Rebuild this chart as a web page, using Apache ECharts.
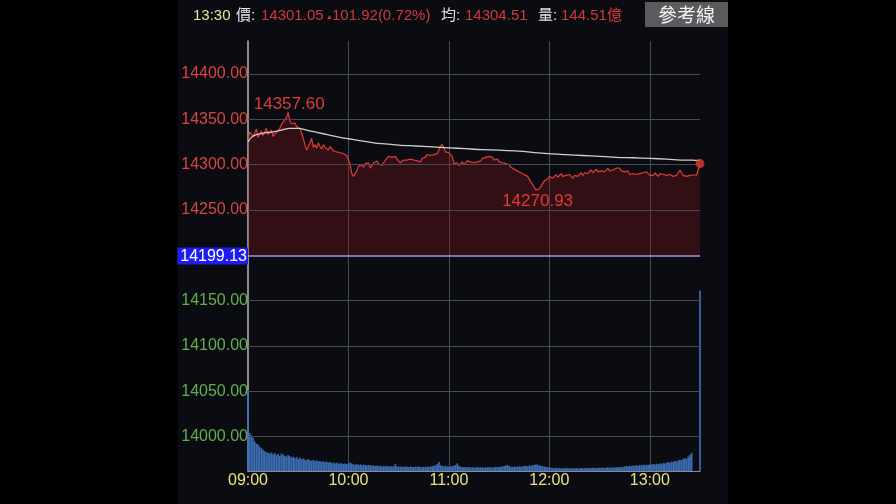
<!DOCTYPE html>
<html>
<head>
<meta charset="utf-8">
<script src="https://cdn.jsdelivr.net/npm/echarts@6/dist/echarts.min.js"></script>
<style>
html,body{margin:0;padding:0;background:#000;}
#c{width:896px;height:504px;}
</style>
</head>
<body>
<div id="c"></div>
<script>
// ---------- data ----------
var refPrice = 14199.13;
var lastTime = '13:30';
var header = { price: '14301.05', change: '101.92(0.72%)', avg: '14304.51', vol: '144.51億' };

// minute categories 09:00 .. 13:30
var times = [];
for (var h = 9; h <= 13; h++) {
  for (var mm = 0; mm < 60; mm++) {
    if (h === 13 && mm > 30) break;
    times.push((h < 10 ? '0' : '') + h + ':' + (mm < 10 ? '0' : '') + mm);
  }
}

// index price per minute
var prices = [
  14326, 14336, 14338, 14331, 14335, 14339, 14330, 14334, 14337, 14332,   // 09:00
  14336, 14340, 14333, 14335, 14338, 14331, 14334, 14336, 14337, 14340,   // 09:10
  14344, 14347, 14349, 14352, 14357.6, 14348, 14345, 14343, 14346, 14342, // 09:20
  14344, 14340, 14341, 14329, 14322, 14316, 14320, 14324, 14329, 14319,   // 09:30
  14322, 14318, 14324, 14320, 14317, 14322, 14319, 14321, 14316, 14320,   // 09:40
  14318, 14315, 14317, 14314, 14316, 14313, 14315, 14312, 14313, 14310,   // 09:50
  14309, 14300, 14290, 14287, 14288, 14293, 14298, 14296, 14300, 14297,   // 10:00
  14301, 14299, 14302, 14296, 14298, 14302, 14300, 14304, 14301, 14303,   // 10:10
  14299, 14302, 14305, 14306, 14309, 14311, 14308, 14310, 14309, 14306,   // 10:20
  14304, 14302, 14303, 14305, 14307, 14305, 14307, 14306, 14308, 14305,   // 10:30
  14307, 14304, 14306, 14303, 14307, 14309, 14308, 14311, 14309, 14310,   // 10:40
  14308, 14311, 14310, 14312, 14316, 14320, 14322.4, 14321, 14314, 14316, // 10:50
  14313, 14315, 14309, 14301, 14300, 14302, 14299, 14301, 14303, 14300,   // 11:00
  14302, 14304, 14305, 14303, 14301, 14302, 14300, 14303, 14305, 14304,   // 11:10
  14307, 14306, 14308, 14310, 14309, 14311, 14308, 14305, 14304, 14306,   // 11:20
  14303, 14304, 14302, 14303, 14301, 14299, 14300, 14297, 14298, 14295,   // 11:30
  14296, 14293, 14294, 14291, 14292, 14289, 14290, 14287, 14284, 14281,   // 11:40
  14278, 14275, 14272, 14270.93, 14273, 14276, 14279, 14282, 14281, 14284, // 11:50
  14287, 14288, 14285, 14287, 14289, 14286, 14288, 14290, 14287, 14285,   // 12:00
  14288, 14286, 14289, 14287, 14285, 14288, 14290, 14287, 14289, 14291,   // 12:10
  14288, 14291, 14293, 14290, 14292, 14294, 14291, 14293, 14295, 14292,   // 12:20
  14294, 14293, 14295, 14292, 14294, 14296, 14293, 14295, 14294, 14295,   // 12:30
  14296, 14294, 14296, 14293, 14295, 14292, 14290, 14293, 14289, 14291,   // 12:40
  14290, 14292, 14289, 14291, 14290, 14288, 14291, 14289, 14292, 14290,   // 12:50
  14288, 14290, 14288, 14291, 14289, 14287, 14290, 14288, 14289, 14291,   // 13:00
  14288, 14286, 14289, 14290, 14287, 14289, 14288, 14290, 14294, 14291,   // 13:10
  14288, 14289, 14287, 14289, 14288, 14288.5, 14288.5, 14288.5, 14288.5, 14288.5, // 13:20
  14301.05                                                                // 13:30
];

// running average (sampled minutes)
var avgMinutes = [0, 2, 5, 10, 15, 20, 25, 30, 35, 40, 45, 50, 55, 60, 65, 70, 75, 80, 90, 100, 110, 120, 130, 140, 150, 160, 170, 180, 190, 200, 210, 220, 230, 240, 250, 260, 265, 270];
var avgValues  = [14325, 14330, 14333, 14335, 14336, 14338, 14340, 14340, 14338, 14336, 14334, 14332, 14330, 14328.5, 14327, 14325.5, 14324, 14323, 14321.5, 14320.5, 14319.5, 14318.5, 14317.5, 14316.5, 14316, 14315, 14313.5, 14312, 14311, 14310, 14309, 14308, 14307.5, 14306.8, 14306, 14305, 14304.8, 14304.51];

// volume per minute (億)
var volumes = [
  5.35, 2.5, 2.35, 2.2, 1.95, 1.8, 1.75, 1.6, 1.5, 1.4,
  1.3, 1.25, 1.2, 1.15, 1.22, 1.1, 1.18, 1.05, 1.12, 1.0,
  1.15, 1.08, 1.0, 0.95, 1.05, 0.98, 0.9, 0.95, 0.85, 0.92,
  0.8, 0.88, 0.78, 0.82, 0.75, 0.72, 0.8, 0.7, 0.68, 0.74,
  0.65, 0.7, 0.62, 0.66, 0.6, 0.64, 0.58, 0.62, 0.55, 0.6,
  0.52, 0.56, 0.5, 0.55, 0.48, 0.52, 0.5, 0.46, 0.5, 0.45,
  0.48, 0.55, 0.5, 0.45, 0.42, 0.46, 0.4, 0.44, 0.38, 0.42,
  0.4, 0.36, 0.4, 0.38, 0.35, 0.38, 0.33, 0.36, 0.32, 0.35,
  0.3, 0.34, 0.31, 0.33, 0.3, 0.32, 0.29, 0.31, 0.45, 0.3,
  0.28, 0.3, 0.27, 0.29, 0.28, 0.3, 0.26, 0.29, 0.27, 0.25,
  0.28, 0.26, 0.3, 0.27, 0.25, 0.28, 0.26, 0.29, 0.27, 0.3,
  0.32, 0.35, 0.38, 0.45, 0.6, 0.4, 0.33, 0.3, 0.35, 0.3,
  0.28, 0.3, 0.32, 0.35, 0.4, 0.5, 0.33, 0.28, 0.26, 0.25,
  0.27, 0.24, 0.26, 0.23, 0.25, 0.22, 0.24, 0.26, 0.23, 0.25,
  0.24, 0.22, 0.25, 0.23, 0.26, 0.24, 0.22, 0.25, 0.27, 0.24,
  0.26, 0.28, 0.3, 0.33, 0.36, 0.4, 0.32, 0.28, 0.26, 0.3,
  0.27, 0.29, 0.31, 0.28, 0.3, 0.33, 0.35, 0.32, 0.36, 0.34,
  0.38, 0.4, 0.45, 0.42, 0.38, 0.35, 0.32, 0.3, 0.28, 0.26,
  0.24, 0.22, 0.2, 0.19, 0.21, 0.18, 0.2, 0.17, 0.19, 0.18,
  0.2, 0.17, 0.19, 0.16, 0.18, 0.17, 0.19, 0.16, 0.18, 0.2,
  0.17, 0.19, 0.21, 0.18, 0.2, 0.19, 0.22, 0.2, 0.21, 0.19,
  0.22, 0.21, 0.23, 0.2, 0.22, 0.24, 0.21, 0.23, 0.22, 0.25,
  0.23, 0.25, 0.27, 0.24, 0.26, 0.3, 0.33, 0.31, 0.35, 0.32,
  0.36, 0.34, 0.38, 0.35, 0.4, 0.37, 0.41, 0.38, 0.42, 0.4,
  0.44, 0.42, 0.46, 0.43, 0.48, 0.45, 0.5, 0.47, 0.52, 0.5,
  0.55, 0.58, 0.55, 0.62, 0.6, 0.66, 0.63, 0.7, 0.75, 0.72,
  0.8, 0.85, 0.82, 0.95, 1.05, 1.2, 0, 0, 0, 0,
  11.9
];

// axis ticks
var priceTicks = [14000, 14050, 14100, 14150, 14199.13, 14250, 14300, 14350, 14400];
var priceMin = 13961.93, priceMax = 14436.33;
var volMax = 28.4;

// ---------- styles ----------
var RED = '#e03b38', GREEN = '#62b04c', GRID = '#474b53';

var avgData = avgMinutes.map(function (m, i) { return [times[m], avgValues[i]]; });
var gridLines = priceTicks.map(function (v) {
  if (v === refPrice) return { yAxis: v, lineStyle: { color: '#9a9ad8', width: 1.5, type: 'solid' } };
  return { yAxis: v };
});

var chart = echarts.init(document.getElementById('c'));
var FONT = '"Helvetica Neue", Arial, "Liberation Sans", "Noto Sans CJK TC", sans-serif';

chart.setOption({
  backgroundColor: '#000',
  animation: false,
  textStyle: { fontFamily: FONT },
  graphic: [
    { type: 'rect', z: -10, shape: { x: 178, y: 0, width: 550, height: 504 }, style: { fill: '#0b0c12' } },
    { type: 'text', x: 193, y: 16, style: { text: '13:30', fill: '#e6e39a', font: '15px ' + FONT, textVerticalAlign: 'middle' } },
    { type: 'text', x: 236, y: 16, style: { text: '價:', fill: '#e4e4e4', font: '15px ' + FONT, textVerticalAlign: 'middle' } },
    { type: 'text', x: 261, y: 16, style: { text: header.price, fill: '#cf3a3a', font: '15px ' + FONT, textVerticalAlign: 'middle' } },
    { type: 'text', x: 326, y: 17, style: { text: '▲', fill: '#cf3a3a', font: '7px ' + FONT, textVerticalAlign: 'middle' } },
    { type: 'text', x: 332, y: 16, style: { text: header.change, fill: '#cf3a3a', font: '15px ' + FONT, textVerticalAlign: 'middle' } },
    { type: 'text', x: 441, y: 16, style: { text: '均:', fill: '#e4e4e4', font: '15px ' + FONT, textVerticalAlign: 'middle' } },
    { type: 'text', x: 465, y: 16, style: { text: header.avg, fill: '#cf3a3a', font: '15px ' + FONT, textVerticalAlign: 'middle' } },
    { type: 'text', x: 538, y: 16, style: { text: '量:', fill: '#e4e4e4', font: '15px ' + FONT, textVerticalAlign: 'middle' } },
    { type: 'text', x: 561, y: 16, style: { text: header.vol, fill: '#cf3a3a', font: '15px ' + FONT, textVerticalAlign: 'middle' } },
    { type: 'rect', shape: { x: 645, y: 2, width: 83, height: 25 }, style: { fill: '#5b5b5d' } },
    { type: 'text', x: 686.5, y: 15, style: { text: '參考線', fill: '#f2f2f2', font: '19px "Noto Sans CJK TC", sans-serif', textAlign: 'center', textVerticalAlign: 'middle' } }
  ],
  grid: { left: 248, right: 196, top: 41, bottom: 33 },
  xAxis: {
    type: 'category',
    data: times,
    boundaryGap: false,
    axisLine: { show: true, lineStyle: { color: '#8a8a90', width: 1 } },
    axisTick: { show: false },
    axisLabel: {
      color: '#e8e27e', fontSize: 16, margin: 2,
      interval: function (i, v) { return v.slice(3) === '00'; }
    },
    splitLine: {
      show: true,
      interval: function (i, v) { return v.slice(3) === '00' && i > 0; },
      lineStyle: { color: GRID, width: 1 }
    }
  },
  yAxis: [
    {
      type: 'value', min: priceMin, max: priceMax,
      axisLine: { show: true, lineStyle: { color: '#b9b9bd', width: 1.5 } },
      axisTick: { show: false },
      splitLine: { show: false },
      axisLabel: {
        customValues: priceTicks,
        margin: 0,
        fontSize: 16,
        formatter: function (v) {
          if (Math.abs(v - refPrice) < 0.01) return '{ref|' + v.toFixed(2) + '}';
          return (v > refPrice ? '{up|' : '{dn|') + v.toFixed(2) + '}';
        },
        rich: {
          up: { color: '#d8453f', fontSize: 16 },
          dn: { color: GREEN, fontSize: 16 },
          ref: { color: '#ffffff', fontSize: 16, backgroundColor: '#1d1df0', padding: [1, 1, 0, 3] }
        }
      }
    },
    { type: 'value', min: 0, max: volMax, show: false, splitLine: { show: false } }
  ],
  series: [
    {
      name: 'vol', type: 'bar', yAxisIndex: 1, data: volumes,
      barWidth: 1.7, itemStyle: { color: '#3b6cb2' }, silent: true, z: 1
    },
    {
      name: 'price', type: 'line', data: prices, showSymbol: false, symbol: 'none',
      lineStyle: { color: RED, width: 1.2 },
      areaStyle: { origin: refPrice, color: 'rgba(155,24,24,0.4)' },
      z: 3,
      markPoint: {
        symbol: 'circle', symbolSize: 0, silent: true,
        label: { show: true, color: RED, fontSize: 17, formatter: function (p) { return p.value.toFixed(2); } },
        data: [
          { type: 'max', label: { offset: [1, -8] } },
          { type: 'min', label: { offset: [0, 10] } }
        ]
      }
    },
    {
      name: 'avg', type: 'line', data: avgData, showSymbol: false, symbol: 'none', smooth: 0.3,
      lineStyle: { color: '#cfcfd2', width: 1.3 }, z: 4,
      markLine: {
        silent: true, symbol: ['none', 'none'], label: { show: false },
        lineStyle: { color: GRID, width: 1, type: 'solid' },
        data: gridLines
      }
    },
    {
      name: 'last', type: 'scatter', data: [[lastTime, prices[prices.length - 1]]],
      symbolSize: 9, itemStyle: { color: '#e2392f' }, z: 5, silent: true
    }
  ]
});
</script>
</body>
</html>
